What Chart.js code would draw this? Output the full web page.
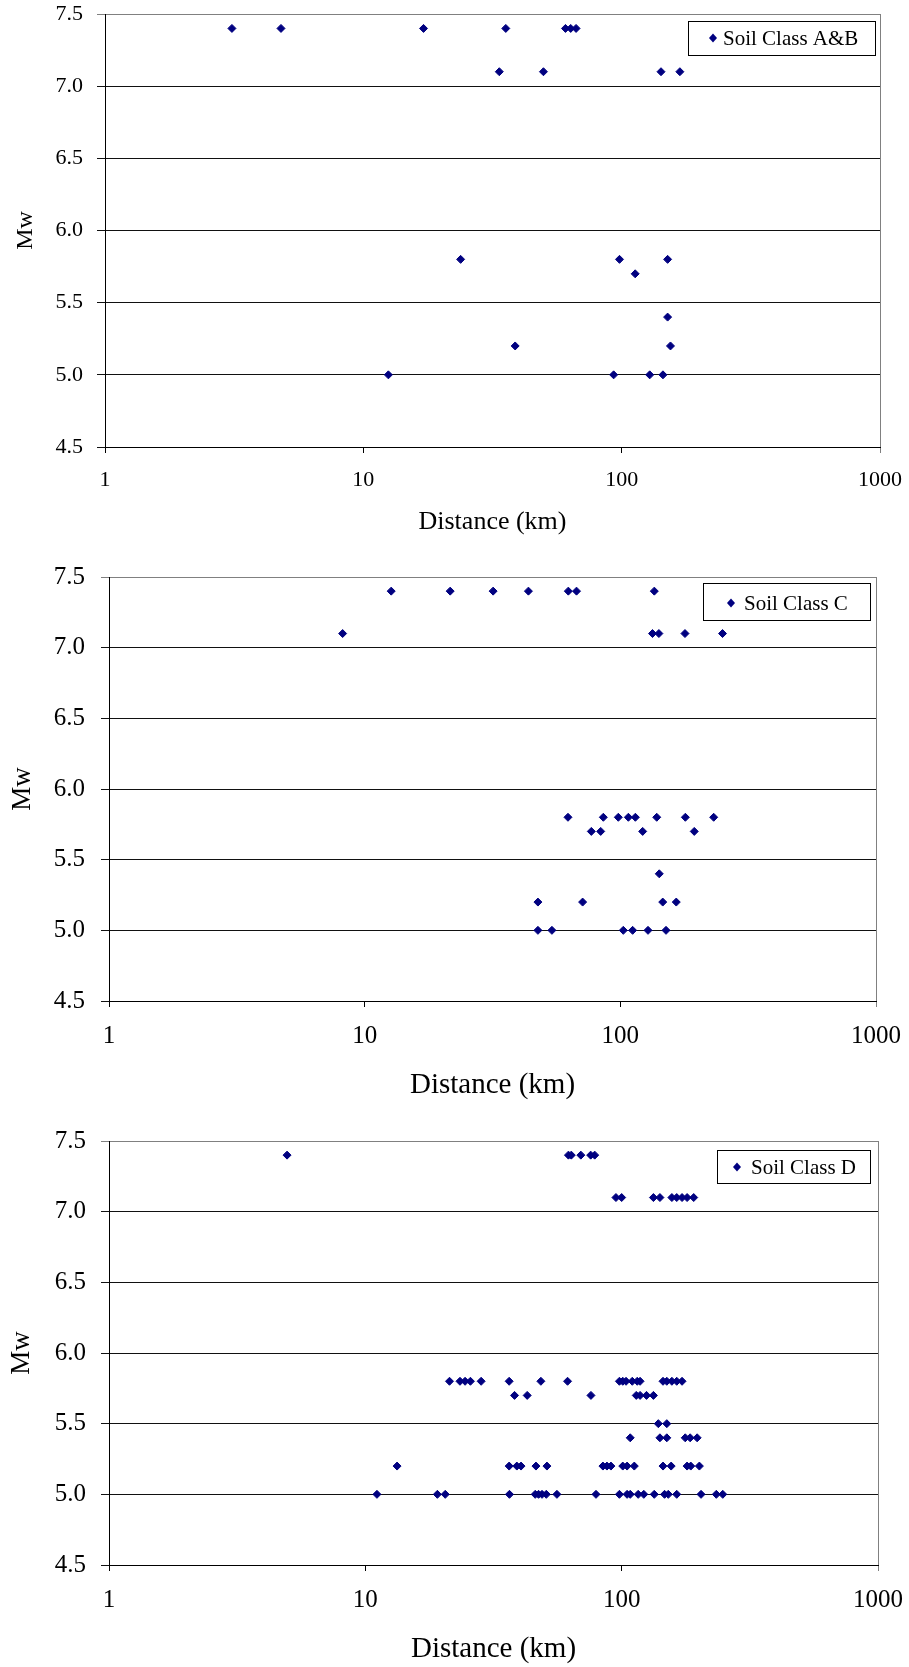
<!DOCTYPE html>
<html>
<head>
<meta charset="utf-8">
<script src="https://cdn.jsdelivr.net/npm/chart.js@4.4.0/dist/chart.umd.min.js"></script>
<style>
  body { margin: 0; background: #fff; width: 909px; height: 1667px; position: relative; overflow: hidden; }
  canvas { position: absolute; left: 0; }
</style>
</head>
<body>
<canvas id="abChart" width="909" height="550" style="top:0px"></canvas>
<canvas id="cChart" width="909" height="555" style="top:550px"></canvas>
<canvas id="dChart" width="909" height="562" style="top:1105px"></canvas>
<script>
// axis ticks
const xTicks = [1, 10, 100, 1000];
const yTicks = [4.5, 5.0, 5.5, 6.0, 6.5, 7.0, 7.5];

// Soil class A&B : magnitude rows and the distances (km) on each row
const abLevels = [7.4, 7.1, 5.8, 5.7, 5.4, 5.2, 5.0];
const abDist = [
    [3.1, 4.8, 17.1, 35.6, 60.6, 63.5, 66.6],
    [33.6, 49.8, 142, 168],
    [23.8, 98.1, 150.6],
    [112.8],
    [150.6],
    [38.7, 154.5],
    [12.5, 93.1, 128.4, 144.5]
];

// Soil class C
const cLevels = [7.4, 7.1, 5.8, 5.7, 5.4, 5.2, 5.0];
const cDist = [
    [12.7, 21.6, 31.8, 43.7, 62.6, 67.4, 135.8],
    [8.2, 133.6, 141.5, 179, 251],
    [62.4, 85.8, 98.2, 107.5, 114.5, 138.8, 179.6, 231.8],
    [77.0, 83.8, 122.3, 194.6],
    [142],
    [47.6, 71.2, 146.5, 165.5],
    [47.6, 54.0, 102.7, 111.7, 128.3, 150.9]
];

// Soil class D
const dLevels = [7.4, 7.1, 5.8, 5.7, 5.5, 5.4, 5.2, 5.0];
const dDist = [
    [4.95, 62, 63.6, 69.3, 75.7, 78.5],
    [95, 100, 133, 141, 157, 164, 172, 180, 191],
    [21.3, 23.4, 24.5, 25.7, 28.3, 36.4, 48.4, 61.5, 98, 101, 104, 110, 115, 118, 145, 150, 157, 164, 172],
    [38.2, 42.8, 75.9, 114, 118, 125, 133],
    [139, 150],
    [108, 141, 150, 177, 185, 197],
    [13.3, 36.4, 39, 40.5, 46.3, 51.1, 84.5, 87.6, 90.8, 101, 105, 112, 145, 156, 180, 186, 201],
    [11.1, 19.1, 20.5, 36.5, 46, 47.4, 48.9, 50.8, 55.9, 79.4, 98, 105, 108, 116, 122, 134, 147, 152, 164, 204, 234, 248]
];

const navy = '#000080';
Chart.defaults.font.family = "'Liberation Serif', 'Times New Roman', serif";
Chart.defaults.color = '#000';

// boxed legend sitting inside the plot, like the Excel original
const legendBox = {
    id: 'legendBox',
    afterDraw(chart, args, o) {
        const ctx = chart.ctx;
        const ds = chart.data.datasets[0];
        ctx.save();
        ctx.fillStyle = '#fff';
        ctx.fillRect(o.x, o.y, o.w, o.h);
        ctx.strokeStyle = '#000';
        ctx.lineWidth = 1;
        ctx.strokeRect(o.x + 0.5, o.y + 0.5, o.w, o.h);
        ctx.fillStyle = ds.backgroundColor;
        ctx.beginPath();
        ctx.moveTo(o.mx - 4, o.my);
        ctx.lineTo(o.mx, o.my - 4.5);
        ctx.lineTo(o.mx + 4, o.my);
        ctx.lineTo(o.mx, o.my + 4.5);
        ctx.closePath();
        ctx.fill();
        ctx.fillStyle = '#000';
        ctx.font = o.size + "px 'Liberation Serif', 'Times New Roman', serif";
        ctx.textBaseline = 'middle';
        ctx.textAlign = 'left';
        ctx.fillText(ds.label, o.tx, o.my + 1);
        ctx.restore();
    }
};

function makePanel(id, label, levels, distRows, g) {
    const canvas = document.getElementById(id);
    const points = [];
    levels.forEach((mw, i) => {
        distRows[i].forEach(d => points.push({ x: d, y: mw }));
    });
    return new Chart(canvas, {
        type: 'scatter',
        data: {
            datasets: [{
                label: label,
                data: points,
                pointStyle: 'rectRot',
                pointRadius: 4,
                borderWidth: 1,
                backgroundColor: navy,
                borderColor: navy
            }]
        },
        options: {
            responsive: false,
            animation: false,
            devicePixelRatio: 1,
            layout: { padding: { top: g.top, right: canvas.width - g.right, bottom: 0, left: 0 } },
            plugins: {
                legend: { display: false },
                tooltip: { enabled: false },
                legendBox: g.legend
            },
            scales: {
                x: {
                    type: 'logarithmic',
                    min: 1,
                    max: 1000,
                    afterBuildTicks: s => { s.ticks = xTicks.map(v => ({ value: v })); },
                    afterFit: s => { s.height = canvas.height - g.bottom; s.paddingLeft = 0; s.paddingRight = 0; },
                    ticks: {
                        callback: v => String(v),
                        autoSkip: false,
                        maxRotation: 0,
                        padding: g.xPad,
                        color: '#000',
                        font: { size: g.tick, lineHeight: 1 }
                    },
                    grid: {
                        color: c => (c.tick && c.tick.value === 1000) ? '#808080' : 'rgba(0,0,0,0)',
                        tickColor: c => (c.tick && c.tick.value === 1000) ? '#808080' : '#000',
                        tickLength: 6,
                        lineWidth: 1
                    },
                    border: { color: '#000', width: 1 },
                    title: {
                        display: true,
                        text: 'Distance (km)',
                        color: '#000',
                        font: { size: g.xTitle, lineHeight: 1 },
                        padding: { top: 0, bottom: g.xTitlePad }
                    }
                },
                y: {
                    min: 4.5,
                    max: 7.5,
                    afterBuildTicks: s => { s.ticks = yTicks.map(v => ({ value: v })); },
                    afterFit: s => { s.width = g.left; s.paddingTop = 0; s.paddingBottom = 0; },
                    ticks: {
                        callback: v => v.toFixed(1),
                        padding: g.yPad,
                        color: '#000',
                        font: { size: g.tick, lineHeight: 1 }
                    },
                    grid: {
                        color: c => (c.tick && c.tick.value === 7.5) ? '#808080' : '#111',
                        tickLength: 8,
                        lineWidth: 1
                    },
                    border: { color: '#000', width: 1 },
                    title: {
                        display: true,
                        text: 'Mw',
                        color: '#000',
                        font: { size: g.yTitle, lineHeight: 1 },
                        padding: { top: g.yTitlePad, bottom: 0 }
                    }
                }
            }
        },
        plugins: [legendBox]
    });
}

makePanel('abChart', 'Soil Class A&B', abLevels, abDist, {
    top: 14, bottom: 447, left: 105, right: 880,
    tick: 22, xPad: 16, yPad: 14, xTitle: 26, xTitlePad: 15, yTitle: 24, yTitlePad: 14,
    legend: { x: 688, y: 21, w: 187, h: 34, mx: 713, my: 38, tx: 723, size: 21 }
});
makePanel('cChart', 'Soil Class C', cLevels, cDist, {
    top: 27, bottom: 451, left: 109, right: 876,
    tick: 25, xPad: 17, yPad: 16, xTitle: 29, xTitlePad: 5, yTitle: 27, yTitlePad: 9,
    legend: { x: 703, y: 33, w: 167, h: 37, mx: 731, my: 53, tx: 744, size: 21 }
});
makePanel('dChart', 'Soil Class D', dLevels, dDist, {
    top: 36, bottom: 460, left: 109, right: 878,
    tick: 25, xPad: 17, yPad: 15, xTitle: 29, xTitlePad: 3, yTitle: 27, yTitlePad: 8,
    legend: { x: 717, y: 45, w: 153, h: 33, mx: 737, my: 62, tx: 751, size: 21 }
});
</script>
</body>
</html>
